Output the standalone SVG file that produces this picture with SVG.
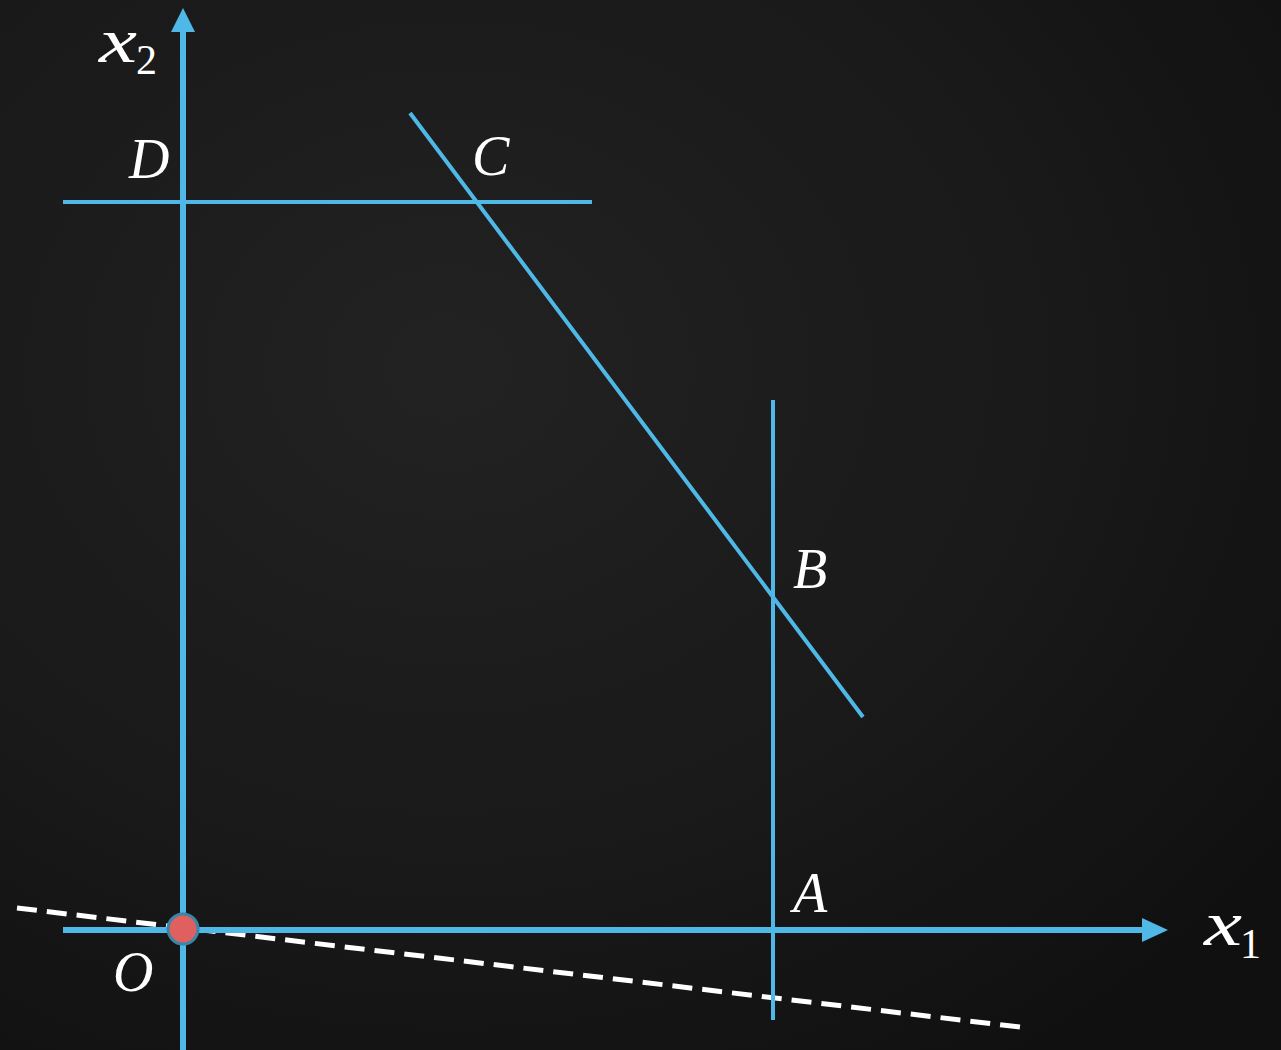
<svg xmlns="http://www.w3.org/2000/svg" width="1281" height="1050" viewBox="0 0 1281 1050">
<defs>
<radialGradient id="bg" cx="0.35" cy="0.35" r="0.8">
<stop offset="0" stop-color="#222222"/>
<stop offset="0.6" stop-color="#191919"/>
<stop offset="1" stop-color="#101010"/>
</radialGradient>
<style>
.ax{stroke:#4FB8E6;stroke-width:6;fill:none}
.ln{stroke:#4FB8E6;stroke-width:4;fill:none}
.head{fill:#4FB8E6}
.dash{stroke:#ffffff;stroke-width:5;stroke-dasharray:20 10;fill:none}
.lbl{font-family:"Liberation Serif","DejaVu Serif",serif;font-style:italic;fill:#ffffff;font-size:56px}
.var{font-family:"Liberation Serif","DejaVu Serif",serif;font-style:italic;fill:#ffffff;font-size:64px}
.sub{font-family:"Liberation Serif","DejaVu Serif",serif;font-style:normal;fill:#ffffff;font-size:42px}
</style>
</defs>
<rect x="0" y="0" width="1281" height="1050" fill="url(#bg)"/>
<g id="connectors">
<line class="dash" x1="17" y1="908" x2="1028" y2="1028"/>
<line class="ax" x1="183" y1="1050" x2="183" y2="28"/>
<polygon class="head" points="183,8 171,32 195,32"/>
<line class="ax" x1="63" y1="930" x2="1146" y2="930"/>
<polygon class="head" points="1168,930 1142,918 1142,942"/>
<line class="ln" x1="63" y1="202" x2="592" y2="202"/>
<line class="ln" x1="410" y1="113" x2="863" y2="717"/>
<line class="ln" x1="773" y1="400" x2="773" y2="1020"/>
</g>
<g id="origin">
<circle cx="183" cy="929" r="15" fill="#E06060" stroke="#3A85A8" stroke-width="3"/>
</g>
<g id="labels">
<text class="var" x="99" y="62" textLength="38" lengthAdjust="spacingAndGlyphs">x</text>
<text class="sub" x="136" y="74">2</text>
<text class="lbl" x="129" y="178">D</text>
<text class="lbl" x="472" y="175">C</text>
<text class="lbl" x="793" y="588">B</text>
<text class="lbl" x="793" y="912">A</text>
<text class="lbl" x="113" y="991">O</text>
<text class="var" x="1204" y="945" textLength="38" lengthAdjust="spacingAndGlyphs">x</text>
<text class="sub" x="1240" y="958">1</text>
</g>
</svg>
